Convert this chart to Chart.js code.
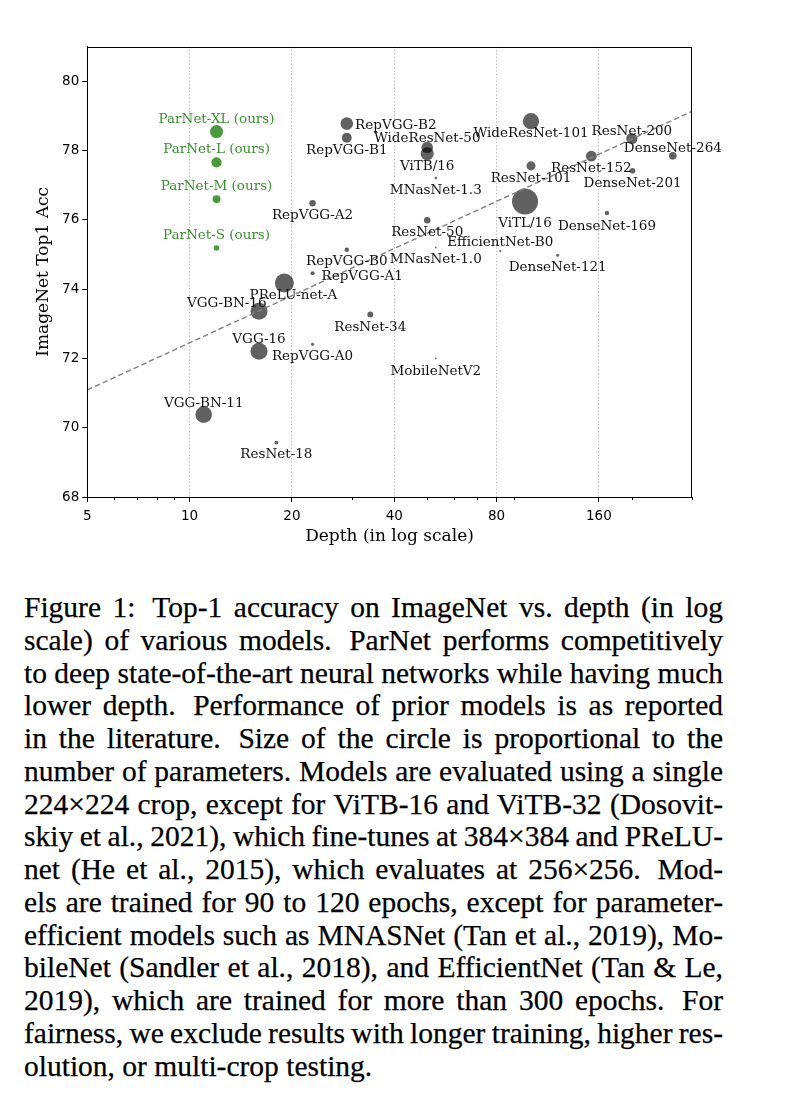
<!DOCTYPE html>
<html>
<head>
<meta charset="utf-8">
<script src="https://cdn.jsdelivr.net/npm/chart.js@4.4.1/dist/chart.umd.min.js"></script>
<style>
html, body { margin: 0; padding: 0; background: #fff; }
body { width: 800px; height: 1096px; position: relative; overflow: hidden; }
#chartBox { position: absolute; left: 0; top: 0; width: 800px; height: 560px; }
#caption {
	position: absolute; left: 24px; top: 591px; width: 699px;
	font-family: "Liberation Serif", Tinos, "Times New Roman", Times, serif;
	font-size: 29.5px; line-height: 32.75px; color: #000;
	-webkit-text-stroke: 0.25px #000;
}
#caption div { white-space: nowrap; text-align: justify; text-align-last: justify; height: 32.75px; word-spacing: -2px; }
#caption div.last { text-align-last: left; word-spacing: 0; }
</style>
</head>
<body>
<div id="chartBox"><canvas id="depth-canvas"></canvas></div>
<div id="caption">
	<div>Figure 1:&thinsp; Top-1 accuracy on ImageNet vs. depth (in log</div>
	<div>scale) of various models.&thinsp; ParNet performs competitively</div>
	<div>to deep state-of-the-art neural networks while having much</div>
	<div>lower depth.&thinsp; Performance of prior models is as reported</div>
	<div>in the literature.&thinsp; Size of the circle is proportional to the</div>
	<div>number of parameters. Models are evaluated using a single</div>
	<div>224×224 crop, except for ViTB-16 and ViTB-32 (Dosovit-</div>
	<div>skiy et al., 2021), which fine-tunes at 384×384 and PReLU-</div>
	<div>net (He et al., 2015), which evaluates at 256×256.&thinsp; Mod-</div>
	<div>els are trained for 90 to 120 epochs, except for parameter-</div>
	<div>efficient models such as MNASNet (Tan et al., 2019), Mo-</div>
	<div>bileNet (Sandler et al., 2018), and EfficientNet (Tan &amp; Le,</div>
	<div>2019), which are trained for more than 300 epochs.&thinsp; For</div>
	<div>fairness, we exclude results with longer training, higher res-</div>
	<div class="last">olution, or multi-crop testing.</div>
</div>
<script>
( function () {
	"use strict";

	// prior models
	var modelNames = [
		'ResNet-18', 'ResNet-34', 'ResNet-50', 'ResNet-101', 'ResNet-152', 'ResNet-200',
		'VGG-16', 'VGG-BN-11', 'VGG-BN-16', 'PReLU-net-A',
		'RepVGG-A0', 'RepVGG-A1', 'RepVGG-A2', 'RepVGG-B0', 'RepVGG-B1', 'RepVGG-B2',
		'WideResNet-50', 'WideResNet-101', 'ViTB/16', 'ViTL/16',
		'DenseNet-121', 'DenseNet-169', 'DenseNet-201', 'DenseNet-264',
		'MNasNet-1.0', 'MNasNet-1.3', 'EfficientNet-B0', 'MobileNetV2'
	];
	var modelDepth = [
		18, 34, 50, 101, 152, 200,
		16, 11, 16, 19,
		23, 23, 23, 29, 29, 29,
		50, 101, 50, 97,
		121, 169, 201, 264,
		53, 53, 82, 53
	];
	var modelAcc = [
		69.57, 73.27, 75.99, 77.56, 77.84, 78.35,
		72.21, 70.38, 73.36, 74.18,
		72.41, 74.46, 76.48, 75.14, 78.37, 78.78,
		78.09, 78.85, 77.91, 76.53,
		74.98, 76.20, 77.42, 77.85,
		75.20, 77.21, 75.10, 72.00
	];
	// parameters, millions
	var modelParams = [
		11.7, 21.8, 25.6, 44.5, 60.2, 64.7,
		138, 133, 138, 170,
		8.3, 12.8, 25.5, 14.3, 51.8, 80.3,
		68.9, 126.9, 86, 307,
		8.0, 14.1, 20.0, 33.3,
		4.4, 6.3, 5.3, 3.5
	];

	// ours
	var parnetNames = ['ParNet-S (ours)', 'ParNet-M (ours)', 'ParNet-L (ours)', 'ParNet-XL (ours)'];
	var parnetDepth = [12, 12, 12, 12];
	var parnetAcc = [75.19, 76.60, 77.66, 78.55];
	var parnetParams = [19, 35.6, 54.9, 85];

	// dashed trend
	var trendDepth = [5, 300];
	var trendAcc = [71.09, 79.13];

	var depthTicks = [5, 10, 20, 40, 80, 160];
	var depthMinorTicks = [6, 7, 8, 9, 30, 50, 60, 70, 90, 200, 300];
	var accTicks = [68, 70, 72, 74, 76, 78, 80];

	// label placement: align, dx, dy (baseline) in px
	var labelPlace = {
		'ParNet-S (ours)': ['c', 0, -9], 'ParNet-M (ours)': ['c', 0, -9],
		'ParNet-L (ours)': ['c', 0, -9], 'ParNet-XL (ours)': ['c', 0, -8.5],
		'ResNet-200': ['c', 0, -3.6], 'VGG-16': ['c', 0, -8], 'VGG-BN-11': ['c', 0, -7.6],
		'VGG-BN-16': ['r', 7.5, -4.3], 'PReLU-net-A': ['c', 9, 15.6],
		'RepVGG-A1': ['l', 9, 6.3], 'RepVGG-B2': ['l', 8.3, 5],
		'WideResNet-50': ['c', 0, -5.6], 'ViTL/16': ['c', 0, 25.7],
		'DenseNet-169': ['c', 0, 17.3], 'DenseNet-264': ['c', 0, -4],
		'EfficientNet-B0': ['c', 0, -5], 'MobileNetV2': ['c', 0, 16.7],
		'ResNet-34': ['c', 0, 16.4]
	};

	var nameLists = [null, modelNames, parnetNames];
	var labelColors = [null, '#111111', '#3d8f33'];

	function toPoints(xs, ys) {
		return xs.map(function (x, i) { return { x: x, y: ys[i] }; });
	}
	function radiusFrom(list) {
		return function (c) {
			var p = list[c.dataIndex];
			return Math.max(0.9, 0.783 * Math.sqrt(p) - 0.7);
		};
	}

	var pointLabels = {
		id: 'pointLabels',
		afterDatasetsDraw: function (chart) {
			var ctx = chart.ctx;
			ctx.save();
			ctx.font = '13.5px "DejaVu Serif"';
			ctx.textBaseline = 'alphabetic';
			[1, 2].forEach(function (di) {
				var meta = chart.getDatasetMeta(di);
				ctx.fillStyle = labelColors[di];
				meta.data.forEach(function (pt, i) {
					var name = nameLists[di][i];
					var pl = labelPlace[name] || ['c', 0, 15.8];
					ctx.textAlign = pl[0] === 'l' ? 'left' : (pl[0] === 'r' ? 'right' : 'center');
					ctx.fillText(name, pt.x + pl[1], pt.y + pl[2]);
				});
			});
			ctx.restore();
		}
	};

	var frameAndMinor = {
		id: 'frameAndMinor',
		afterDraw: function (chart) {
			var ctx = chart.ctx;
			var a = chart.chartArea;
			var xs = chart.scales.x;
			ctx.save();
			ctx.strokeStyle = '#000';
			ctx.lineWidth = 1;
			depthMinorTicks.forEach(function (v) {
				var px = Math.round(xs.getPixelForValue(v)) + 0.5;
				ctx.beginPath();
				ctx.moveTo(px, a.bottom);
				ctx.lineTo(px, a.bottom + 3);
				ctx.stroke();
			});
			ctx.strokeRect(Math.round(a.left) + 0.5, Math.round(a.top) + 0.5,
				Math.round(a.right - a.left), Math.round(a.bottom - a.top));
			ctx.restore();
		}
	};

	var tickFont = { family: 'DejaVu Sans', size: 13.5 };
	var titleFont = { family: 'DejaVu Serif', size: 17 };

	var config = {
		type: 'scatter',
		data: {
			datasets: [{
				type: 'line',
				data: toPoints(trendDepth, trendAcc),
				borderColor: '#808080',
				borderWidth: 1.4,
				borderDash: [5.5, 3],
				pointRadius: 0,
				fill: false
			}, {
				data: toPoints(modelDepth, modelAcc),
				backgroundColor: 'rgba(0,0,0,0.62)',
				borderWidth: 0,
				pointRadius: radiusFrom(modelParams)
			}, {
				data: toPoints(parnetDepth, parnetAcc),
				backgroundColor: '#4a9a3c',
				borderWidth: 0,
				pointRadius: radiusFrom(parnetParams)
			}]
		},
		options: {
			responsive: true,
			maintainAspectRatio: false,
			animation: false,
			events: [],
			layout: { padding: { left: 0, top: 46.7, right: 108.3, bottom: 0 } },
			plugins: { legend: { display: false }, tooltip: { enabled: false } },
			scales: {
				x: {
					type: 'logarithmic',
					min: 5,
					max: 300,
					afterBuildTicks: function (s) { s.ticks = depthTicks.map(function (v) { return { value: v }; }); },
					afterFit: function (s) { s.height = 63; },
					ticks: {
						callback: function (v) { return String(v); },
						autoSkip: false, maxRotation: 0, padding: 6,
						color: '#000', font: tickFont
					},
					grid: {
						color: function (c) { return (c.tick && c.tick.value === 5) ? 'rgba(0,0,0,0)' : '#b0b0b0'; },
						lineWidth: 1,
						tickColor: '#000',
						tickLength: 5,
						tickWidth: 1,
						tickBorderDash: []
					},
					border: { color: '#000', width: 1, dash: [1.2, 2.2] },
					title: {
						display: true, text: 'Depth (in log scale)', color: '#000',
						font: titleFont, padding: { top: 0, bottom: 13 }
					}
				},
				y: {
					min: 68,
					max: 81,
					afterBuildTicks: function (s) { s.ticks = accTicks.map(function (v) { return { value: v }; }); },
					afterFit: function (s) { s.width = 87.3; },
					ticks: { padding: 3, color: '#000', font: tickFont },
					grid: { drawOnChartArea: false, tickLength: 5, tickColor: '#000' },
					border: { color: '#000', width: 1 },
					title: {
						display: true, text: 'ImageNet Top1 Acc', color: '#000',
						font: titleFont, padding: { top: 33, bottom: 0 }
					}
				}
			}
		},
		plugins: [pointLabels, frameAndMinor]
	};

	var ctx = document.getElementById('depth-canvas').getContext('2d');
	var depthGraph = new Chart(ctx, config);
} () );
</script>
</body>
</html>
